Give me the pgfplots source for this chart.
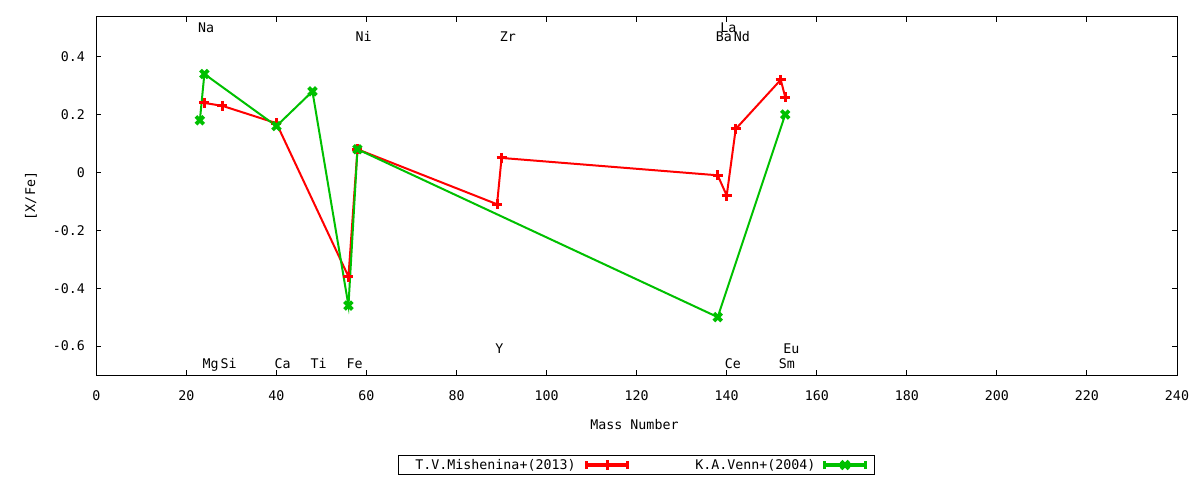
\documentclass[border=0pt]{standalone}
\usepackage{fontspec}
\setmainfont{DejaVu Sans Mono}
\usepackage{pgfplots}
\pgfplotsset{compat=1.18}
\definecolor{gpred}{RGB}{255,0,0}
\definecolor{gpgreen}{RGB}{0,192,0}
\begin{document}
\fontsize{13.3}{16}\selectfont
\begin{tikzpicture}[x=1pt,y=1pt]
\path[use as bounding box] (0,0) rectangle (1200,480);
\begin{axis}[
  at={(96.3pt,105pt)}, anchor=south west,
  scale only axis, width=1080.7pt, height=358pt,
  xmin=0, xmax=240, ymin=-0.7, ymax=0.537,
  xtick={0,20,40,60,80,100,120,140,160,180,200,220,240},
  xticklabels={0,20,40,60,80,100,120,140,160,180,200,220,240},
  ytick={-0.6,-0.4,-0.2,0,0.2,0.4},
  yticklabels={-0.6,-0.4,-0.2,0,0.2,0.4},
  axis line style={black, line width=1pt},
  tick align=inside, major tick length=5pt,
  every tick/.style={black, line width=1pt},
  xticklabel style={inner sep=0pt, anchor=north, yshift=-15pt},
  yticklabel style={inner sep=0pt, anchor=east, xshift=-11.3pt},
  xlabel={Mass Number},
  xlabel style={at={(axis description cs:0.498,-0.1374)}, anchor=center, inner sep=0pt},
  ylabel={[X/Fe]},
  ylabel style={at={(axis description cs:-0.0604,0.5)}, anchor=center, inner sep=0pt},
  legend columns=2,
  legend plot pos=right,
  legend image code/.code={
    \draw[mark repeat=2,mark phase=2,#1,line width=3.5pt] plot coordinates {(1.5pt,0pt) (22pt,0pt) (42.5pt,0pt)};
    \draw[#1,mark=none,line width=3pt] (1.5pt,-4pt) -- (1.5pt,4pt) (42.5pt,-4pt) -- (42.5pt,4pt);
  },
  legend style={
    at={(axis description cs:0.4996,-0.2514)}, anchor=center,
    draw=black, line width=1pt, fill=white,
    inner xsep=7pt, inner ysep=3.5pt,
    nodes={inner sep=0pt},
    /tikz/column 1/.style={column sep=9.3pt},
    /tikz/column 2/.style={column sep=66pt},
    /tikz/column 3/.style={column sep=7.3pt},
  },
  clip=false,
]
\addplot[gpred, line width=2pt, mark=+, mark size=5pt, mark options={line width=3pt, solid}]
  coordinates {
  (24,0.24) (28,0.23) (40,0.17) (56,-0.36) (58,0.08) (89,-0.11) (90,0.05)
  (138,-0.01) (140,-0.08) (142,0.15) (152,0.32) (153,0.26)
  };
\addlegendentry{\makebox[170.4pt][r]{T.V.Mishenina+(2013)}}
\addplot[gpgreen, line width=2pt, mark=x, mark size=5.5pt, mark options={line width=3.8pt, solid}]
  coordinates {
  (23,0.18) (24,0.34) (40,0.16) (48,0.28) (56,-0.46) (58,0.08) (138,-0.50) (153,0.20)
  };
\addlegendentry{K.A.Venn+(2004)}
% element labels
\begin{scope}[every node/.style={anchor=base west, inner sep=0pt, xshift=-2pt, yshift=-4.85pt}]
\node at (axis cs:23,0.50) {Na};
\node at (axis cs:139,0.50) {La};
\node at (axis cs:58,0.47) {Ni};
\node at (axis cs:90,0.47) {Zr};
\node at (axis cs:138,0.47) {Ba};
\node at (axis cs:142,0.47) {Nd};
\node at (axis cs:24,-0.66) {Mg};
\node at (axis cs:28,-0.66) {Si};
\node at (axis cs:40,-0.66) {Ca};
\node at (axis cs:48,-0.66) {Ti};
\node at (axis cs:56,-0.66) {Fe};
\node at (axis cs:140,-0.66) {Ce};
\node at (axis cs:152,-0.66) {Sm};
\node at (axis cs:89,-0.61) {Y};
\node at (axis cs:153,-0.61) {Eu};
\end{scope}
\end{axis}
\end{tikzpicture}
\end{document}
